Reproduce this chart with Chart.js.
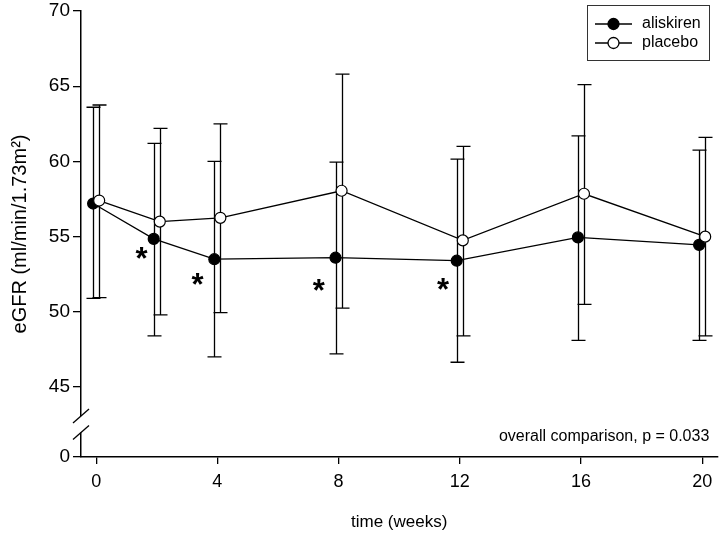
<!DOCTYPE html>
<html>
<head>
<meta charset="utf-8">
<script src="https://cdn.jsdelivr.net/npm/chart.js@4/dist/chart.umd.min.js"></script>
<style>
  body { margin: 0; background: #fff; }
  #wrap { width: 724px; height: 535px; }
</style>
</head>
<body>
<div id="wrap"><canvas id="chart" width="724" height="535"></canvas></div>
<script>
// values (eGFR, mean with error bars)
const weeks = [0, 2, 4, 8, 12, 16, 20];
const aliskirenMean  = [57.2, 54.85, 53.5, 53.6, 53.4, 54.95, 54.45];
const aliskirenUpper = [63.6, 61.2, 60.0, 59.95, 60.15, 61.7, 60.75];
const aliskirenLower = [50.9, 48.4, 47.0, 47.2, 46.65, 48.1, 48.1];
const placeboMean  = [57.4, 56.0, 56.25, 58.05, 54.75, 57.85, 55.0];
const placeboUpper = [63.75, 62.2, 62.5, 65.8, 61.0, 65.1, 61.6];
const placeboLower = [50.95, 49.8, 49.95, 50.25, 48.4, 50.5, 48.4];

// significance markers (*) in data units
const starWeeks = [1.5, 3.35, 7.35, 11.45];
const starValues = [53.9, 52.2, 51.8, 51.85];

const xTicks = [0, 4, 8, 12, 16, 20];
const yTicks = [45, 50, 55, 60, 65, 70];
const zeroAt = 40.35;          // where the "0" of the broken axis sits
const breakFrom = 41.98, breakTo = 43.07;

const noteText = 'overall comparison, p = 0.033';
const FONT = '"Liberation Sans", Arial, Helvetica, sans-serif';
const shift = 0.1;              // horizontal nudge so the groups don't overlap
const capHalf = 7;

function pts(mean, dx) {
    return weeks.map((w, i) => ({ x: w + dx, y: mean[i] }));
}

const errorSeries = [
    { dx: -shift, upper: aliskirenUpper, lower: aliskirenLower },
    { dx: shift, upper: placeboUpper, lower: placeboLower }
];

const extras = {
    id: 'extras',
    beforeDatasetsDraw(chart) {
        const { ctx, scales: { x, y } } = chart;
        ctx.save();
        ctx.strokeStyle = '#000';
        ctx.lineWidth = 1.3;
        errorSeries.forEach(s => {
            weeks.forEach((w, i) => {
                const px = Math.round(x.getPixelForValue(w + s.dx)) + 0.5;
                const top = y.getPixelForValue(s.upper[i]);
                const bot = y.getPixelForValue(s.lower[i]);
                ctx.beginPath();
                ctx.moveTo(px, top); ctx.lineTo(px, bot);
                ctx.moveTo(px - capHalf, top); ctx.lineTo(px + capHalf, top);
                ctx.moveTo(px - capHalf, bot); ctx.lineTo(px + capHalf, bot);
                ctx.stroke();
            });
        });
        ctx.restore();
    },
    afterDraw(chart) {
        const { ctx, chartArea, scales: { x, y } } = chart;
        ctx.save();

        // axis break
        const ax = chartArea.left;
        const yA = y.getPixelForValue(breakTo);
        const yB = y.getPixelForValue(breakFrom);
        ctx.fillStyle = '#fff';
        ctx.fillRect(ax - 3, yA, 6, yB - yA);
        ctx.strokeStyle = '#000';
        ctx.lineWidth = 1.3;
        [yA, yB].forEach(cy => {
            ctx.beginPath();
            ctx.moveTo(ax - 8, cy + 7);
            ctx.lineTo(ax + 8, cy - 7);
            ctx.stroke();
        });

        // asterisks
        ctx.fillStyle = '#000';
        ctx.font = 'bold 31px ' + FONT;
        ctx.textAlign = 'center';
        ctx.textBaseline = 'alphabetic';
        const m = ctx.measureText('*');
        const mid = (m.actualBoundingBoxAscent - m.actualBoundingBoxDescent) / 2;
        starWeeks.forEach((w, i) => {
            ctx.fillText('*', x.getPixelForValue(w), y.getPixelForValue(starValues[i]) + mid);
        });

        // note
        ctx.font = '16px ' + FONT;
        ctx.textAlign = 'right';
        ctx.textBaseline = 'middle';
        ctx.fillText(noteText, chartArea.right - 8, chartArea.bottom - 20);

        // legend: line + marker + label inside a box
        const bx = 587.5, by = 5.5, bw = 122, bh = 55;
        ctx.strokeStyle = '#333';
        ctx.lineWidth = 1;
        ctx.strokeRect(bx, by, bw, bh);
        ctx.textAlign = 'left';
        chart.data.datasets.forEach((ds, i) => {
            const ly = 24 + i * 19;
            ctx.strokeStyle = '#000';
            ctx.lineWidth = 1.3;
            ctx.beginPath();
            ctx.moveTo(595, ly); ctx.lineTo(632, ly);
            ctx.stroke();
            ctx.beginPath();
            ctx.arc(613.5, ly, 5.5, 0, Math.PI * 2);
            ctx.fillStyle = ds.pointBackgroundColor;
            ctx.fill();
            ctx.stroke();
            ctx.fillStyle = '#000';
            ctx.fillText(ds.label, 642, ly);
        });
        ctx.restore();
    }
};

new Chart(document.getElementById('chart'), {
    type: 'line',
    data: {
        datasets: [{
            label: 'aliskiren',
            data: pts(aliskirenMean, -shift),
            borderColor: '#000',
            borderWidth: 1.3,
            pointBackgroundColor: '#000',
            pointBorderColor: '#000',
            pointBorderWidth: 1.2,
            pointRadius: 5.5,
            order: 2
        }, {
            label: 'placebo',
            data: pts(placeboMean, shift),
            borderColor: '#000',
            borderWidth: 1.3,
            pointBackgroundColor: '#fff',
            pointBorderColor: '#000',
            pointBorderWidth: 1.2,
            pointRadius: 5.5,
            order: 1
        }]
    },
    options: {
        responsive: false,
        animation: false,
        layout: { padding: { top: 11, right: 5, left: 0, bottom: 0 } },
        plugins: {
            legend: { display: false },
            tooltip: { enabled: false }
        },
        scales: {
            x: {
                type: 'linear',
                min: -0.5,
                max: 20.5,
                afterBuildTicks: s => { s.ticks = xTicks.map(v => ({ value: v })); },
                afterFit: s => { s.height = 78; s.paddingLeft = 0; s.paddingRight = 0; },
                grid: { drawOnChartArea: false, color: '#000', lineWidth: 1.3, tickLength: 7 },
                border: { color: '#000', width: 1.5 },
                ticks: { color: '#000', padding: 7, font: { family: FONT, size: 18 } },
                title: {
                    display: true,
                    text: 'time (weeks)',
                    color: '#000',
                    padding: { top: 0, bottom: 2 },
                    font: { family: FONT, size: 17 }
                }
            },
            y: {
                min: zeroAt,
                max: 70,
                afterBuildTicks: s => { s.ticks = [zeroAt, ...yTicks].map(v => ({ value: v })); },
                afterFit: s => { s.width = 81; s.paddingTop = 0; s.paddingBottom = 0; },
                grid: { drawOnChartArea: false, color: '#000', lineWidth: 1.3, tickLength: 8 },
                border: { color: '#000', width: 1.5 },
                ticks: {
                    color: '#000',
                    padding: 3,
                    font: { family: FONT, size: 19 },
                    callback: v => (v === zeroAt ? '0' : v)
                },
                title: {
                    display: true,
                    text: 'eGFR (ml/min/1.73m²)',
                    color: '#000',
                    padding: { top: 8, bottom: 0 },
                    font: { family: FONT, size: 20 }
                }
            }
        }
    },
    plugins: [extras]
});
</script>
</body>
</html>
